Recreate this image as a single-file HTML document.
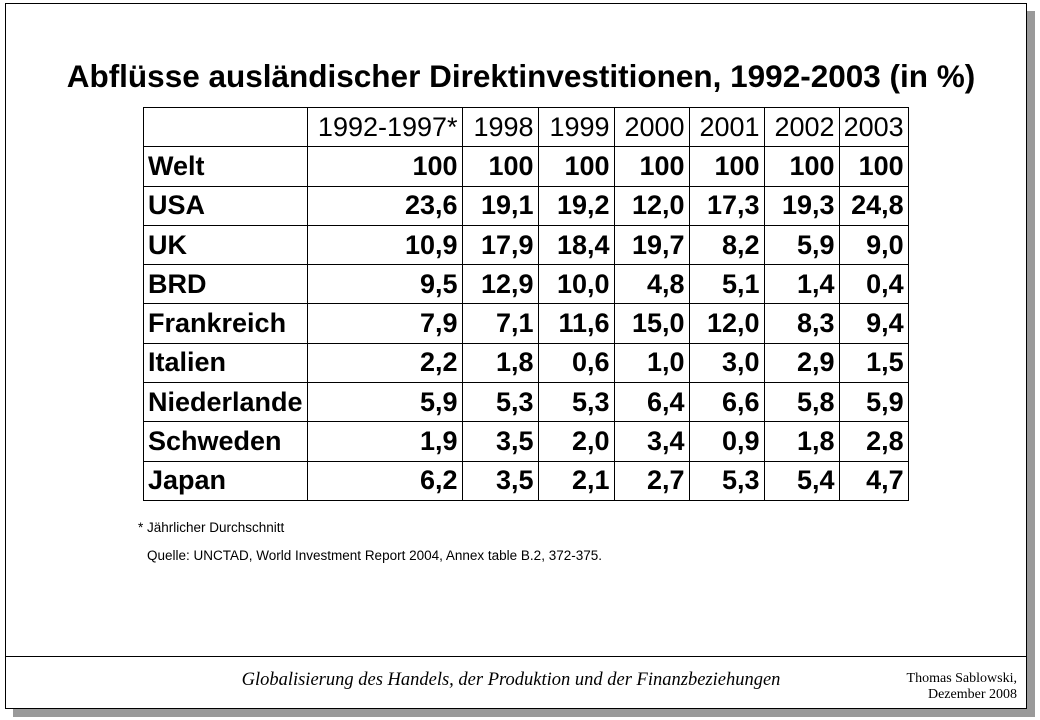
<!DOCTYPE html>
<html><head><meta charset="utf-8"><style>
body{margin:0;width:1040px;height:720px;background:#fff;position:relative;overflow:hidden;font-family:"Liberation Sans",Arial,sans-serif}
.shadow{position:absolute;left:13px;top:11px;width:1022px;height:706px;background:#9a9a9a}
.slide{position:absolute;left:5px;top:3px;width:1020px;height:704px;background:#fff;border:1px solid #000}
.sep{position:absolute;left:0;right:0;top:652px;border-top:1.5px solid #000}
h1{position:absolute;left:0;width:1030px;top:54px;margin:0;text-align:center;font-size:31.5px;font-weight:bold;white-space:nowrap}
table{position:absolute;left:137px;top:103px;border-collapse:collapse}
td{border:1.5px solid #000;height:38.3px;padding:0 4px;font-size:27px;font-weight:bold;text-align:right;white-space:nowrap}
tr.h td{font-weight:normal}
td.l{text-align:left}
.note{position:absolute;font-size:13.5px}
.foot{position:absolute;left:0;width:1010px;text-align:center;top:666px;font-family:"Liberation Serif",serif;font-style:italic;font-size:18.5px}
.auth{position:absolute;right:9px;top:667px;text-align:right;font-family:"Liberation Serif",serif;font-size:14px;line-height:16px}
</style></head><body>
<div class="shadow"></div>
<div class="slide">
<h1>Abflüsse ausländischer Direktinvestitionen, 1992-2003 (in %)</h1>
<table>
<colgroup><col style="width:163px"><col style="width:155px"><col style="width:76px"><col style="width:76px"><col style="width:75px"><col style="width:75px"><col style="width:75px"><col style="width:64px"></colgroup>
<tr class="h"><td></td><td>1992-1997*</td><td>1998</td><td>1999</td><td>2000</td><td>2001</td><td>2002</td><td>2003</td></tr>
<tr><td class="l">Welt</td><td>100</td><td>100</td><td>100</td><td>100</td><td>100</td><td>100</td><td>100</td></tr>
<tr><td class="l">USA</td><td>23,6</td><td>19,1</td><td>19,2</td><td>12,0</td><td>17,3</td><td>19,3</td><td>24,8</td></tr>
<tr><td class="l">UK</td><td>10,9</td><td>17,9</td><td>18,4</td><td>19,7</td><td>8,2</td><td>5,9</td><td>9,0</td></tr>
<tr><td class="l">BRD</td><td>9,5</td><td>12,9</td><td>10,0</td><td>4,8</td><td>5,1</td><td>1,4</td><td>0,4</td></tr>
<tr><td class="l">Frankreich</td><td>7,9</td><td>7,1</td><td>11,6</td><td>15,0</td><td>12,0</td><td>8,3</td><td>9,4</td></tr>
<tr><td class="l">Italien</td><td>2,2</td><td>1,8</td><td>0,6</td><td>1,0</td><td>3,0</td><td>2,9</td><td>1,5</td></tr>
<tr><td class="l">Niederlande</td><td>5,9</td><td>5,3</td><td>5,3</td><td>6,4</td><td>6,6</td><td>5,8</td><td>5,9</td></tr>
<tr><td class="l">Schweden</td><td>1,9</td><td>3,5</td><td>2,0</td><td>3,4</td><td>0,9</td><td>1,8</td><td>2,8</td></tr>
<tr><td class="l">Japan</td><td>6,2</td><td>3,5</td><td>2,1</td><td>2,7</td><td>5,3</td><td>5,4</td><td>4,7</td></tr>
</table>
<div class="note" style="left:132px;top:516px">* Jährlicher Durchschnitt</div>
<div class="note" style="left:141px;top:544px">Quelle: UNCTAD, World Investment Report 2004, Annex table B.2, 372-375.</div>
<div class="sep"></div>
<div class="foot">Globalisierung des Handels, der Produktion und der Finanzbeziehungen</div>
<div class="auth">Thomas Sablowski,<br>Dezember 2008</div>
</div>
</body></html>
